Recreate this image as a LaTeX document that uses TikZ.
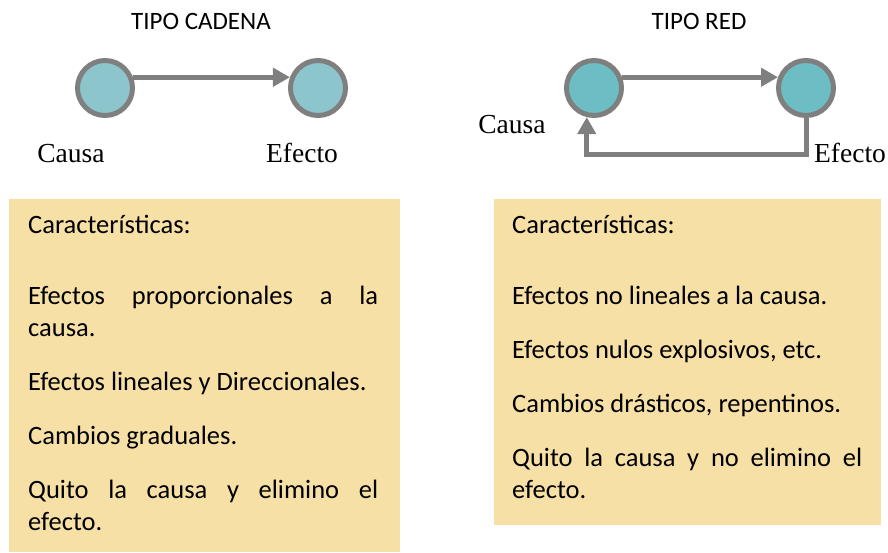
\documentclass[tikz,border=0pt]{standalone}
\usepackage{fontspec}
\setmainfont{Carlito}
\newfontfamily\causafont{Liberation Serif}
\usetikzlibrary{arrows.meta,positioning}
\definecolor{cajaamarilla}{HTML}{F7E0A6}
\definecolor{cadenaazul}{HTML}{8CC5CC}
\definecolor{redazul}{HTML}{6DBDC4}
\definecolor{grisborde}{HTML}{7F7F7F}

\begin{document}
\begin{tikzpicture}[x=1pt, y=-1pt, font=\fontsize{26.5}{32}\selectfont,
  nodo/.style = {draw=grisborde, circle, line width=5pt, minimum size=55pt, inner sep=0pt},
  flecha/.style = {draw=grisborde, line width=5pt, -{Triangle[length=17pt,width=18pt]}},
  etiqueta/.style = {font=\causafont\fontsize{27.5}{30}\selectfont, anchor=base, inner sep=0pt},
  titulo/.style = {font=\fontsize{25}{30}\selectfont, anchor=base, inner sep=0pt},
  texto/.style = {text width=350pt, align=justify, anchor=base west, inner sep=0pt}]
\useasboundingbox (0,0) rectangle (888,552);

% tipo cadena
\node[titulo] (tcadena) at (201,29) {TIPO CADENA};
\node[nodo, fill=cadenaazul] (cad1) at (105,88) {};
\node[nodo, fill=cadenaazul] (cad2) [right=153pt of cad1] {};
\draw[flecha] (cad1.21) -- (cad2.159);
\node[etiqueta] (causa1) at (71,162) {Causa};
\node[etiqueta] (efecto1) at (302,162) {Efecto};

% tipo red
\node[titulo] (tred) at (699,29) {TIPO RED};
\node[nodo, fill=redazul] (red1) at (594,88) {};
\node[nodo, fill=redazul] (red2) [right=152pt of red1] {};
\draw[flecha] (red1.21) -- (red2.159);
\coordinate (lazo) at (700,154);
\draw[flecha] (red2.south) -- (red2.south |- lazo) -- (red1.256 |- lazo) -- (red1.256);
\node[etiqueta] (causa2) at (512,133) {Causa};
\node[etiqueta] (efecto2) at (850,162) {Efecto};

% cajas
\fill[cajaamarilla] (9,199) rectangle (400,552);
\fill[cajaamarilla] (494,199) rectangle (881,525);
\node[texto] (textocadena) at (28,233) {Características:\par\vspace{39pt}%
Efectos proporcionales a la\linebreak causa.\par\vspace{22pt}%
Efectos lineales y Direccionales.\par\vspace{22pt}%
Cambios graduales.\par\vspace{22pt}%
Quito la causa y elimino el\linebreak efecto.};
\node[texto] (textored) at (512,233) {Características:\par\vspace{39pt}%
Efectos no lineales a la causa.\par\vspace{22pt}%
Efectos nulos explosivos, etc.\par\vspace{22pt}%
Cambios drásticos, repentinos.\par\vspace{22pt}%
Quito la causa y no elimino el\linebreak efecto.};
\end{tikzpicture}
\end{document}
